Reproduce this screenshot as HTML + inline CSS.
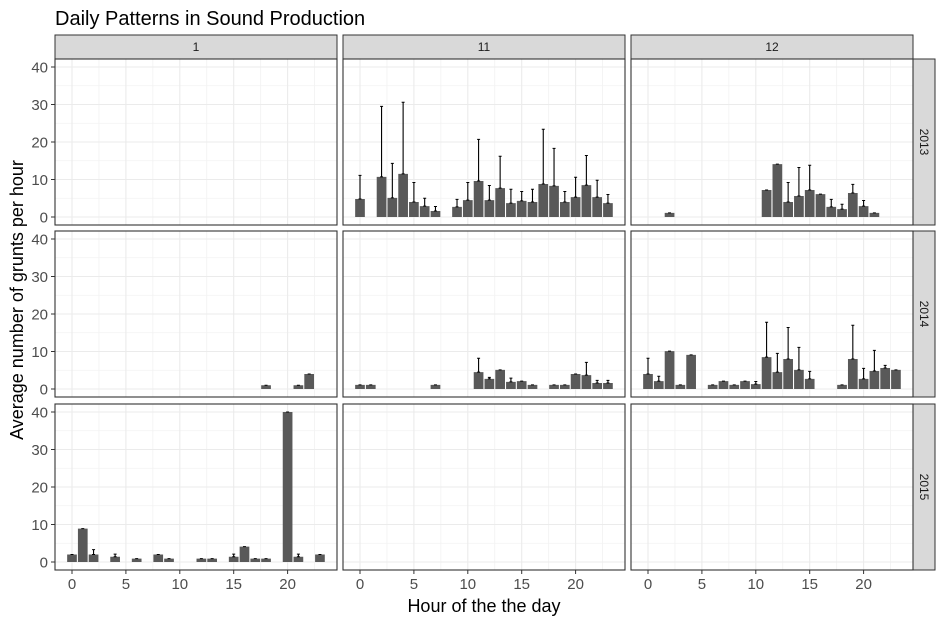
<!DOCTYPE html>
<html><head><meta charset="utf-8"><style>
body{margin:0;background:#fff}
svg{display:block;font-family:"Liberation Sans",Arial,sans-serif}
</style></head><body>
<svg id="chart" width="944" height="623"></svg>
<script>
const hours=[...Array(24).keys()];
const colLabels=["1","11","12"];
const rowLabels=["2013","2014","2015"];
const yTicks=[0,10,20,30,40];
const xTicks=[0,5,10,15,20];
const v_2013_1=Array(24).fill(null);
const e_2013_1=Array(24).fill(null);
const v_2013_11=[4.8,null,10.7,5.1,11.5,4.0,2.9,1.6,null,2.7,4.5,9.6,4.5,7.7,3.7,4.3,4.0,8.8,8.3,4.0,5.3,8.5,5.3,3.7];
const e_2013_11=[11.1,null,29.5,14.3,30.6,9.2,5.0,2.8,null,4.7,9.2,20.7,8.4,16.2,7.4,6.8,7.4,23.4,18.3,6.8,10.6,16.4,9.8,6.0];
const v_2013_12=[null,null,1.1,null,null,null,null,null,null,null,null,7.2,14.1,4.0,5.6,7.2,6.1,2.7,2.1,6.4,2.9,1.1,null,null];
const e_2013_12=[null,null,null,null,null,null,null,null,null,null,null,null,null,9.2,13.2,13.8,null,4.7,3.4,8.7,4.4,null,null,null];
const v_2014_1=[null,null,null,null,null,null,null,null,null,null,null,null,null,null,null,null,null,null,1.0,null,null,1.0,4.0,null];
const e_2014_1=Array(24).fill(null);
const v_2014_11=[1.1,1.1,null,null,null,null,null,1.1,null,null,null,4.5,2.7,5.1,1.9,2.1,1.1,null,1.1,1.1,4.0,3.7,1.6,1.6];
const e_2014_11=[null,null,null,null,null,null,null,null,null,null,null,8.2,3.1,null,2.9,null,null,null,null,null,null,7.1,2.3,2.3];
const v_2014_12=[4.0,2.1,10.1,1.1,9.1,null,1.1,2.1,1.1,2.1,1.3,8.5,4.5,8.0,5.1,2.7,null,null,1.1,8.0,2.7,4.8,5.6,5.1];
const e_2014_12=[8.2,3.4,null,null,null,null,null,null,null,null,2.0,17.8,9.5,16.4,11.1,4.7,null,null,null,17.0,5.5,10.3,6.3,null];
const v_2015_1=[2.0,8.9,2.0,null,1.4,null,0.9,null,2.0,0.9,null,null,0.9,0.9,null,1.4,4.1,0.9,0.9,null,40,1.4,null,2.0];
const e_2015_1=[null,null,3.3,null,2.1,null,null,null,null,null,null,null,null,null,null,2.1,null,null,null,null,null,2.1,null,null];
const v_2015_11=Array(24).fill(null);
const e_2015_11=Array(24).fill(null);
const v_2015_12=Array(24).fill(null);
const e_2015_12=Array(24).fill(null);
const vals=[[v_2013_1,v_2013_11,v_2013_12],[v_2014_1,v_2014_11,v_2014_12],[v_2015_1,v_2015_11,v_2015_12]];
const errs=[[e_2013_1,e_2013_11,e_2013_12],[e_2014_1,e_2014_11,e_2014_12],[e_2015_1,e_2015_11,e_2015_12]];

const NS="http://www.w3.org/2000/svg";
const svg=document.getElementById('chart');
function mk(tag,attrs,parent,text){const e=document.createElementNS(NS,tag);for(const k in attrs)e.setAttribute(k,attrs[k]);if(text!==undefined)e.textContent=text;(parent||svg).appendChild(e);return e;}
const colX=[55,343,631],rowY=[59,231,404],PW=282,PH=166;
function xs(c,h){return colX[c]+17+h*10.78;}
function ys(r,v){return rowY[r]+158-v*3.75;}

let t=mk('text',{x:55,y:25,'font-size':20,fill:'#000'},svg,'Daily Patterns in Sound Production');


for(let c=0;c<3;c++){
  const s=mk('g',{});
  
  mk('rect',{x:colX[c],y:35,width:PW,height:24,fill:'#d9d9d9',stroke:'#333','stroke-width':1},s);
  mk('text',{x:colX[c]+PW/2,y:51,'font-size':12,'text-anchor':'middle',fill:'#1a1a1a'},s,colLabels[c]);
}
for(let r=0;r<3;r++){
  const s=mk('g',{});
  
  mk('rect',{x:913,y:rowY[r],width:22,height:PH,fill:'#d9d9d9',stroke:'#333','stroke-width':1},s);
  const cx=924,cy=rowY[r]+PH/2;
  mk('text',{x:cx,y:cy,'font-size':12,'text-anchor':'middle',fill:'#1a1a1a',transform:`rotate(90 ${cx} ${cy}) translate(0 4)`},s,rowLabels[r]);
}
for(let r=0;r<3;r++)for(let c=0;c<3;c++){
  const g=mk('g',{});
  
  mk('rect',{x:colX[c],y:rowY[r],width:PW,height:PH,fill:'#fff'},g);
  for(let m=5;m<40;m+=10){const y=ys(r,m);mk('line',{x1:colX[c],x2:colX[c]+PW,y1:y,y2:y,stroke:'#f2f2f2','stroke-width':0.8},g);}
  for(let m=2.5;m<25;m+=5){const x=xs(c,m);mk('line',{x1:x,x2:x,y1:rowY[r],y2:rowY[r]+PH,stroke:'#f2f2f2','stroke-width':0.8},g);}
  yTicks.forEach(v=>{const y=ys(r,v);mk('line',{x1:colX[c],x2:colX[c]+PW,y1:y,y2:y,stroke:'#ebebeb','stroke-width':1.1},g);});
  xTicks.forEach(h=>{const x=xs(c,h);mk('line',{x1:x,x2:x,y1:rowY[r],y2:rowY[r]+PH,stroke:'#ebebeb','stroke-width':1.1},g);});
  const vv=vals[r][c],ee=errs[r][c];
  hours.forEach(h=>{
    const v=vv[h];if(v==null)return;
    const b=mk('rect',{x:xs(c,h)-4.85,y:ys(r,v),width:9.7,height:ys(r,0)-ys(r,v),fill:'#595959'},g);
    
    const e=ee[h];
    const x=xs(c,h);
    if(e!=null){
      const el=mk('path',{d:`M${x} ${ys(r,v)}V${ys(r,e)}M${x-1.5} ${ys(r,e)}H${x+1.5}M${x-1.5} ${ys(r,v)}H${x+1.5}`,stroke:'#000','stroke-width':1.1,fill:'none'},g);
      
    } else {
      mk('line',{x1:x-1.5,x2:x+1.5,y1:ys(r,v),y2:ys(r,v),stroke:'#000','stroke-width':1},g);
    }
  });
  mk('rect',{x:colX[c],y:rowY[r],width:PW,height:PH,fill:'none',stroke:'#333','stroke-width':1.1},g);
}
for(let r=0;r<3;r++){
  const g=mk('g',{});
  
  yTicks.forEach(v=>{const y=ys(r,v);
    mk('line',{x1:51,x2:55,y1:y,y2:y,stroke:'#333','stroke-width':1},g);
    mk('text',{x:48,y:y+5.5,'font-size':15,'text-anchor':'end',fill:'#4d4d4d'},g,String(v));});
}
for(let c=0;c<3;c++){
  const g=mk('g',{});
  
  xTicks.forEach(h=>{const x=xs(c,h);
    mk('line',{x1:x,x2:x,y1:570,y2:574,stroke:'#333','stroke-width':1},g);
    mk('text',{x:x,y:589,'font-size':15,'text-anchor':'middle',fill:'#4d4d4d'},g,String(h));});
}
t=mk('text',{x:484,y:612,'font-size':18,'text-anchor':'middle',fill:'#000'},svg,'Hour of the the day');

t=mk('text',{x:23,y:300,'font-size':18,'text-anchor':'middle',fill:'#000',transform:'rotate(-90 23 300)'},svg,'Average number of grunts per hour');

</script>
</body></html>
